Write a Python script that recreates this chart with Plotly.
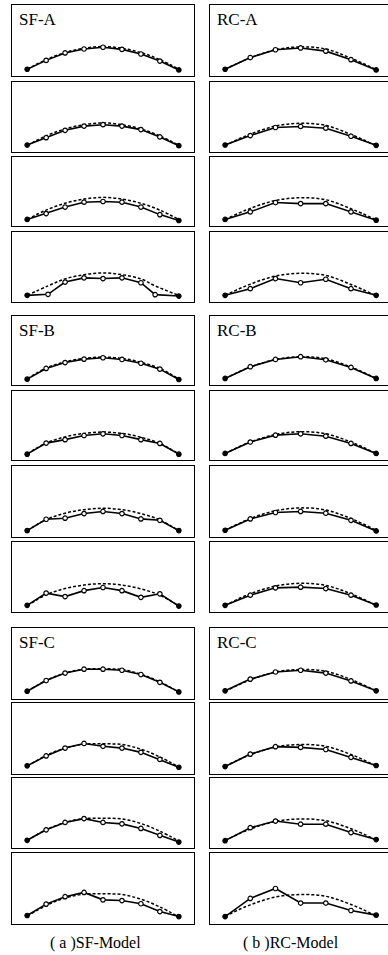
import plotly.graph_objects as go

W, H = 388, 955

# ---------------- data ----------------
SF_X = [0, 1, 2, 3, 4, 5, 6, 7, 8]
SF_A4_X = [0, 1.1, 2, 3, 4, 5, 6, 6.75, 8]
RC_X = [0, 1, 2, 3, 4, 5, 6]

GROUP_LABELS_SF = ["SF-A", "SF-B", "SF-C"]
GROUP_LABELS_RC = ["RC-A", "RC-B", "RC-C"]
CAPTION_SF = "( a )SF-Model"
CAPTION_RC = "( b )RC-Model"

# reference (initial) shape, dashed
SF_A_REF = [0.95, 2.3, 3.3, 3.9, 4.15, 3.9, 3.3, 2.3, 0.95]
SF_B_REF = [0.9, 2.45, 3.35, 3.85, 4.05, 3.85, 3.3, 2.4, 0.85]
SF_C_REF = [1.1, 2.6, 3.65, 4.2, 4.25, 4.15, 3.5, 2.4, 1.0]
RC_A_REF = [0.95, 2.55, 3.7, 4.1, 3.8, 2.5, 0.9]
RC_B_REF = [0.95, 2.6, 3.7, 4.1, 3.8, 2.6, 0.95]
RC_C_REF = [1.1, 2.7, 3.8, 4.15, 3.9, 2.75, 1.15]

# measured shapes, solid with markers
SF_A1 = [0.95, 2.2, 3.25, 3.8, 4.05, 3.75, 3.1, 2.1, 0.85]
SF_A2 = [1.0, 2.05, 3.1, 3.7, 3.9, 3.7, 3.2, 2.15, 0.9]
SF_A3 = [0.95, 1.8, 2.75, 3.45, 3.55, 3.45, 2.75, 1.65, 0.8]
SF_A4 = [0.95, 1.1, 2.85, 3.45, 3.35, 3.45, 2.75, 1.05, 0.85]

SF_B1 = [0.85, 2.4, 3.25, 3.75, 3.95, 3.7, 3.15, 2.3, 0.8]
SF_B2 = [0.85, 2.45, 2.95, 3.55, 3.8, 3.55, 2.95, 2.4, 0.85]
SF_B3 = [0.9, 2.5, 2.65, 3.3, 3.6, 3.3, 2.55, 2.35, 0.9]
SF_B4 = [0.95, 2.7, 2.2, 3.05, 3.5, 3.05, 2.1, 2.6, 0.85]

SF_C1 = [1.1, 2.6, 3.65, 4.2, 4.2, 4.05, 3.45, 2.35, 1.0]
SF_C2 = [1.15, 2.55, 3.65, 4.3, 3.9, 3.65, 3.05, 2.05, 0.95]
SF_C3 = [1.1, 2.6, 3.65, 4.2, 3.65, 3.45, 2.8, 1.8, 0.85]
SF_C4 = [1.2, 2.8, 3.85, 4.45, 3.4, 3.3, 2.85, 1.75, 1.05]

RC_A1 = [0.95, 2.6, 3.7, 3.95, 3.5, 2.3, 0.85]
RC_A2 = [1.0, 2.35, 3.5, 3.65, 3.4, 2.25, 0.95]
RC_A3 = [0.95, 2.05, 3.4, 3.25, 3.25, 2.05, 0.85]
RC_A4 = [0.95, 1.9, 3.35, 2.75, 3.25, 1.9, 0.95]

RC_B1 = [0.95, 2.65, 3.7, 4.1, 3.65, 2.55, 0.95]
RC_B2 = [0.95, 2.6, 3.6, 3.8, 3.45, 2.4, 0.95]
RC_B3 = [0.95, 2.55, 3.45, 3.6, 3.35, 2.35, 0.85]
RC_B4 = [0.95, 2.4, 3.45, 3.55, 3.35, 2.4, 1.0]

RC_C1 = [1.15, 2.8, 3.8, 4.05, 3.65, 2.55, 1.15]
RC_C2 = [1.05, 2.8, 3.85, 3.75, 3.45, 2.35, 1.2]
RC_C3 = [1.05, 2.9, 3.85, 3.4, 3.4, 2.2, 1.2]
RC_C4 = [1.05, 3.6, 5.0, 2.95, 2.95, 1.9, 1.25]

SF_PANELS = [
    (SF_X, SF_A_REF, SF_A1), (SF_X, SF_A_REF, SF_A2), (SF_X, SF_A_REF, SF_A3), (SF_A4_X, SF_A_REF, SF_A4),
    (SF_X, SF_B_REF, SF_B1), (SF_X, SF_B_REF, SF_B2), (SF_X, SF_B_REF, SF_B3), (SF_X, SF_B_REF, SF_B4),
    (SF_X, SF_C_REF, SF_C1), (SF_X, SF_C_REF, SF_C2), (SF_X, SF_C_REF, SF_C3), (SF_X, SF_C_REF, SF_C4),
]
RC_PANELS = [
    (RC_X, RC_A_REF, RC_A1), (RC_X, RC_A_REF, RC_A2), (RC_X, RC_A_REF, RC_A3), (RC_X, RC_A_REF, RC_A4),
    (RC_X, RC_B_REF, RC_B1), (RC_X, RC_B_REF, RC_B2), (RC_X, RC_B_REF, RC_B3), (RC_X, RC_B_REF, RC_B4),
    (RC_X, RC_C_REF, RC_C1), (RC_X, RC_C_REF, RC_C2), (RC_X, RC_C_REF, RC_C3), (RC_X, RC_C_REF, RC_C4),
]

# ---------------- layout (pixels) ----------------
PANEL_Y = [(5, 76), (82, 152), (157, 226), (232, 302),
           (316, 385), (391, 460), (466, 537), (542, 612),
           (628, 699), (703, 774), (778, 848), (853, 924)]
COLS = [
    {"x0": 12, "x1": 194, "xr": [-0.8, 8.8], "panels": SF_PANELS, "labels": GROUP_LABELS_SF},
    {"x0": 210, "x1": 388, "xr": [-0.6, 6.47], "panels": RC_PANELS, "labels": GROUP_LABELS_RC},
]

FONT = "Liberation Serif, Times New Roman, serif"

fig = go.Figure()
layout = {}
annotations = []
k = 0
for col in COLS:
    for i, (xs, ref, meas) in enumerate(col["panels"]):
        k += 1
        xa = "x" if k == 1 else f"x{k}"
        ya = "y" if k == 1 else f"y{k}"
        xkey = "xaxis" if k == 1 else f"xaxis{k}"
        ykey = "yaxis" if k == 1 else f"yaxis{k}"
        top, bot = PANEL_Y[i]
        layout[xkey] = dict(domain=[col["x0"] / W, col["x1"] / W], range=col["xr"],
                            anchor=ya, showgrid=False, zeroline=False, showticklabels=False,
                            ticks="", showline=True, mirror=True, linecolor="black", linewidth=1.4,
                            fixedrange=True)
        layout[ykey] = dict(domain=[1 - bot / H, 1 - top / H], range=[0, 10],
                            anchor=xa, showgrid=False, zeroline=False, showticklabels=False,
                            ticks="", showline=True, mirror=True, linecolor="black", linewidth=1.4,
                            fixedrange=True)
        fig.add_trace(go.Scatter(x=xs, y=ref, xaxis=xa, yaxis=ya, mode="lines",
                                 line=dict(color="black", width=1.5, dash="3px,2px", shape="spline",
                                           smoothing=1.0),
                                 showlegend=False, hoverinfo="skip"))
        n = len(meas)
        mcolors = ["black"] + ["white"] * (n - 2) + ["black"]
        fig.add_trace(go.Scatter(x=xs, y=meas, xaxis=xa, yaxis=ya, mode="lines+markers",
                                 line=dict(color="black", width=1.6),
                                 marker=dict(size=4.5, color=mcolors, line=dict(color="black", width=1.2)),
                                 showlegend=False, hoverinfo="skip"))
        if i % 4 == 0:
            annotations.append(dict(text=col["labels"][i // 4], xref="paper", yref="paper",
                                    x=(col["x0"] + 5) / W, y=1 - (top + 3) / H,
                                    xanchor="left", yanchor="top", showarrow=False,
                                    font=dict(family=FONT, size=17, color="black")))

annotations.append(dict(text=CAPTION_SF, xref="paper", yref="paper", x=95 / W, y=1 - 943 / H,
                        xanchor="center", yanchor="middle", showarrow=False,
                        font=dict(family=FONT, size=16, color="black")))
annotations.append(dict(text=CAPTION_RC, xref="paper", yref="paper", x=291 / W, y=1 - 943 / H,
                        xanchor="center", yanchor="middle", showarrow=False,
                        font=dict(family=FONT, size=16, color="black")))

fig.update_layout(width=W, height=H, margin=dict(l=0, r=0, t=0, b=0),
                  paper_bgcolor="white", plot_bgcolor="white",
                  annotations=annotations, **layout)

fig.write_html("out.html", config={"displayModeBar": False},
               post_script="document.body.style.margin='0';document.body.style.overflow='hidden';")
